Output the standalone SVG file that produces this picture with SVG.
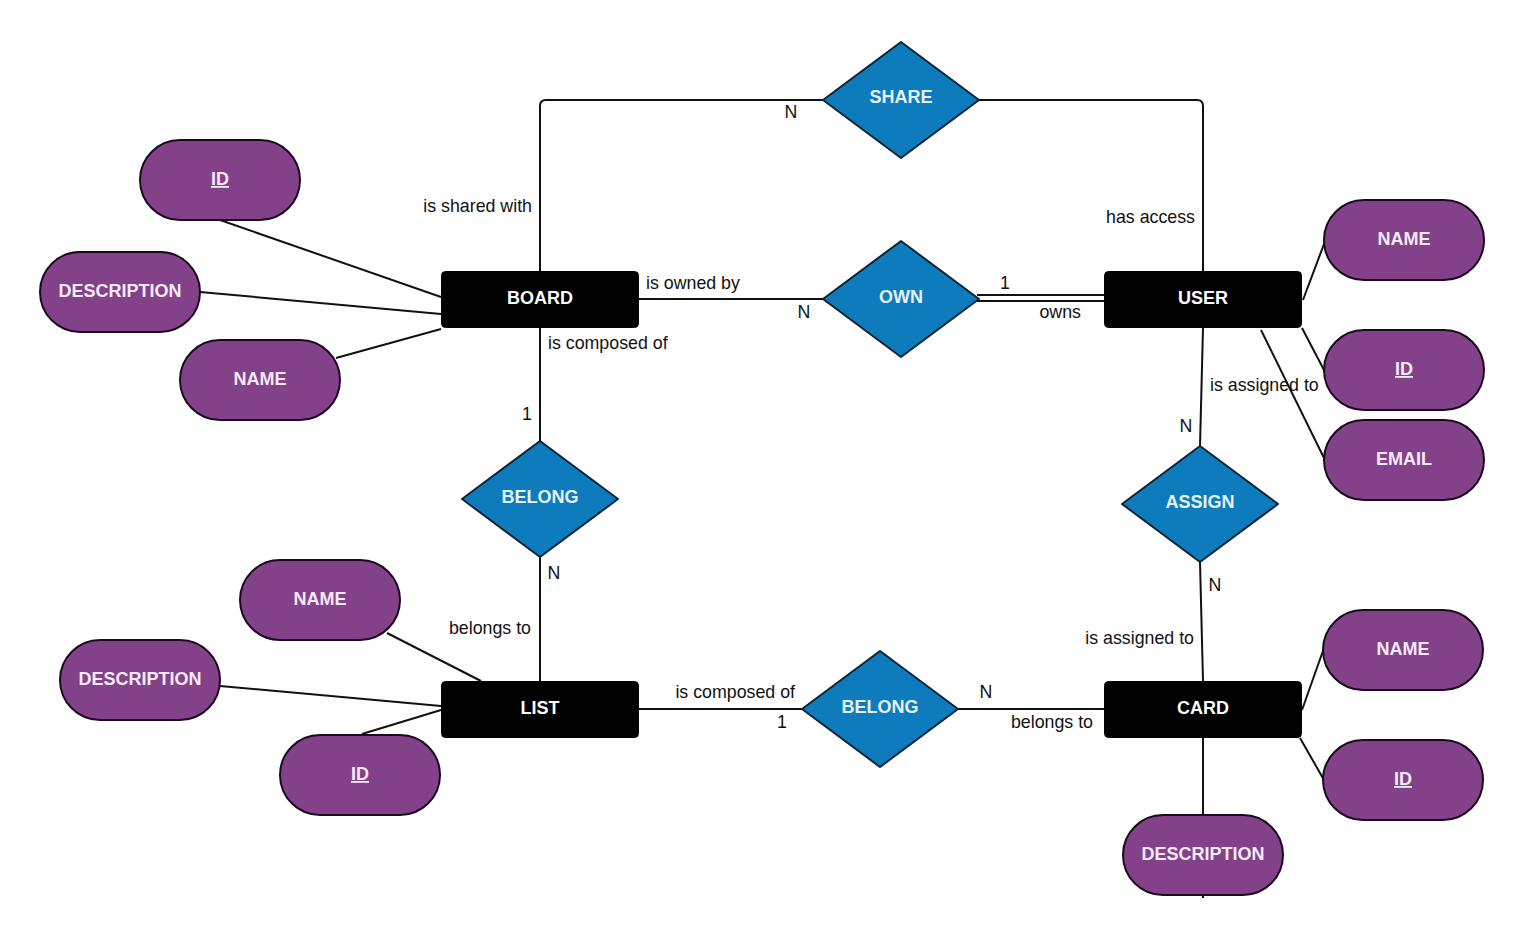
<svg xmlns="http://www.w3.org/2000/svg" width="1524" height="938" viewBox="0 0 1524 938">
<style>
.ent{fill:#000;stroke:#000;stroke-width:1}
.rel{fill:#0e7bbd;stroke:#0a2535;stroke-width:2;stroke-linejoin:round}
.att{fill:#83418a;stroke:#1a0a1c;stroke-width:2}
.nt{font-family:"Liberation Sans",Arial,sans-serif;font-weight:bold;font-size:18px;fill:#fff;text-anchor:middle}
.at{font-family:"Liberation Sans",Arial,sans-serif;font-weight:bold;font-size:18px;fill:#f6eaf6;text-anchor:middle}
.rt{font-family:"Liberation Sans",Arial,sans-serif;font-weight:bold;font-size:18px;fill:#e6f2fa;text-anchor:middle}
.u{text-decoration:underline}
.lb{font-family:"Liberation Sans",Arial,sans-serif;font-size:17.8px;fill:#111}
.cn{fill:none;stroke:#111;stroke-width:2}
</style>
<rect width="1524" height="938" fill="#fff"/>
<g id="connectors" class="cn">
<path d="M540 271 V106 Q540 100 546 100 H823"/>
<path d="M979 100 H1197 Q1203 100 1203 106 V271"/>
<line x1="638" y1="299" x2="823" y2="299"/>
<line x1="977" y1="295" x2="1104" y2="295"/>
<line x1="977" y1="301" x2="1104" y2="301"/>
<line x1="540" y1="328" x2="540" y2="441"/>
<line x1="540" y1="557" x2="540" y2="681"/>
<line x1="638" y1="709" x2="802" y2="709"/>
<line x1="958" y1="709" x2="1104" y2="709"/>
<line x1="1203" y1="328" x2="1200" y2="446"/>
<line x1="1200" y1="562" x2="1203" y2="681"/>
<line x1="220" y1="220" x2="441" y2="297"/>
<line x1="200" y1="292" x2="441" y2="314"/>
<line x1="336" y1="358" x2="441" y2="329"/>
<line x1="1303" y1="300" x2="1324" y2="244"/>
<line x1="1302" y1="328" x2="1324" y2="370"/>
<line x1="1261" y1="330" x2="1324" y2="458"/>
<line x1="387" y1="633" x2="481" y2="681"/>
<line x1="220" y1="686" x2="441" y2="706"/>
<line x1="362" y1="734" x2="441" y2="710"/>
<line x1="1302" y1="710" x2="1324" y2="648"/>
<line x1="1300" y1="738" x2="1324" y2="780"/>
<line x1="1203" y1="738" x2="1203" y2="898"/>
</g>
<g id="labels">
<text class="lb" x="532" y="212" text-anchor="end">is shared with</text>
<text class="lb" x="791" y="118" text-anchor="middle">N</text>
<text class="lb" x="1195" y="223" text-anchor="end">has access</text>
<text class="lb" x="646" y="289">is owned by</text>
<text class="lb" x="804" y="318" text-anchor="middle">N</text>
<text class="lb" x="1005" y="289" text-anchor="middle">1</text>
<text class="lb" x="1081" y="318" text-anchor="end">owns</text>
<text class="lb" x="548" y="349">is composed of</text>
<text class="lb" x="527" y="420" text-anchor="middle">1</text>
<text class="lb" x="554" y="579" text-anchor="middle">N</text>
<text class="lb" x="531" y="634" text-anchor="end">belongs to</text>
<text class="lb" x="1210" y="391">is assigned to</text>
<text class="lb" x="1186" y="432" text-anchor="middle">N</text>
<text class="lb" x="1215" y="591" text-anchor="middle">N</text>
<text class="lb" x="1194" y="644" text-anchor="end">is assigned to</text>
<text class="lb" x="795" y="698" text-anchor="end">is composed of</text>
<text class="lb" x="782" y="728" text-anchor="middle">1</text>
<text class="lb" x="986" y="698" text-anchor="middle">N</text>
<text class="lb" x="1093" y="728" text-anchor="end">belongs to</text>
</g>
<g id="board"><rect class="ent" x="441.5" y="271.5" width="197" height="56" rx="4"/><text class="nt" x="540" y="303.5">BOARD</text></g>
<g id="user"><rect class="ent" x="1104.5" y="271.5" width="197" height="56" rx="4"/><text class="nt" x="1203" y="303.5">USER</text></g>
<g id="list"><rect class="ent" x="441.5" y="681.5" width="197" height="56" rx="4"/><text class="nt" x="540" y="713.5">LIST</text></g>
<g id="card"><rect class="ent" x="1104.5" y="681.5" width="197" height="56" rx="4"/><text class="nt" x="1203" y="713.5">CARD</text></g>
<g id="share"><polygon class="rel" points="901,42 979,100 901,158 823,100"/><text class="rt" x="901" y="103">SHARE</text></g>
<g id="own"><polygon class="rel" points="901,241 979,299 901,357 823,299"/><text class="rt" x="901" y="303">OWN</text></g>
<g id="belong-board-list"><polygon class="rel" points="540,441 618,499 540,557 462,499"/><text class="rt" x="540" y="503">BELONG</text></g>
<g id="assign"><polygon class="rel" points="1200,446 1278,504 1200,562 1122,504"/><text class="rt" x="1200" y="508">ASSIGN</text></g>
<g id="belong-list-card"><polygon class="rel" points="880,651 958,709 880,767 802,709"/><text class="rt" x="880" y="713">BELONG</text></g>
<g id="board-id"><rect class="att" x="140" y="140" width="160" height="80" rx="40"/><text class="at u" x="220" y="185">ID</text></g>
<g id="board-description"><rect class="att" x="40" y="252" width="160" height="80" rx="40"/><text class="at" x="120" y="297">DESCRIPTION</text></g>
<g id="board-name"><rect class="att" x="180" y="340" width="160" height="80" rx="40"/><text class="at" x="260" y="385">NAME</text></g>
<g id="user-name"><rect class="att" x="1324" y="200" width="160" height="80" rx="40"/><text class="at" x="1404" y="245">NAME</text></g>
<g id="user-id"><rect class="att" x="1324" y="330" width="160" height="80" rx="40"/><text class="at u" x="1404" y="375">ID</text></g>
<g id="user-email"><rect class="att" x="1324" y="420" width="160" height="80" rx="40"/><text class="at" x="1404" y="465">EMAIL</text></g>
<g id="list-name"><rect class="att" x="240" y="560" width="160" height="80" rx="40"/><text class="at" x="320" y="605">NAME</text></g>
<g id="list-description"><rect class="att" x="60" y="640" width="160" height="80" rx="40"/><text class="at" x="140" y="685">DESCRIPTION</text></g>
<g id="list-id"><rect class="att" x="280" y="735" width="160" height="80" rx="40"/><text class="at u" x="360" y="780">ID</text></g>
<g id="card-name"><rect class="att" x="1323" y="610" width="160" height="80" rx="40"/><text class="at" x="1403" y="655">NAME</text></g>
<g id="card-id"><rect class="att" x="1323" y="740" width="160" height="80" rx="40"/><text class="at u" x="1403" y="785">ID</text></g>
<g id="card-description"><rect class="att" x="1123" y="815" width="160" height="80" rx="40"/><text class="at" x="1203" y="860">DESCRIPTION</text></g>
</svg>
